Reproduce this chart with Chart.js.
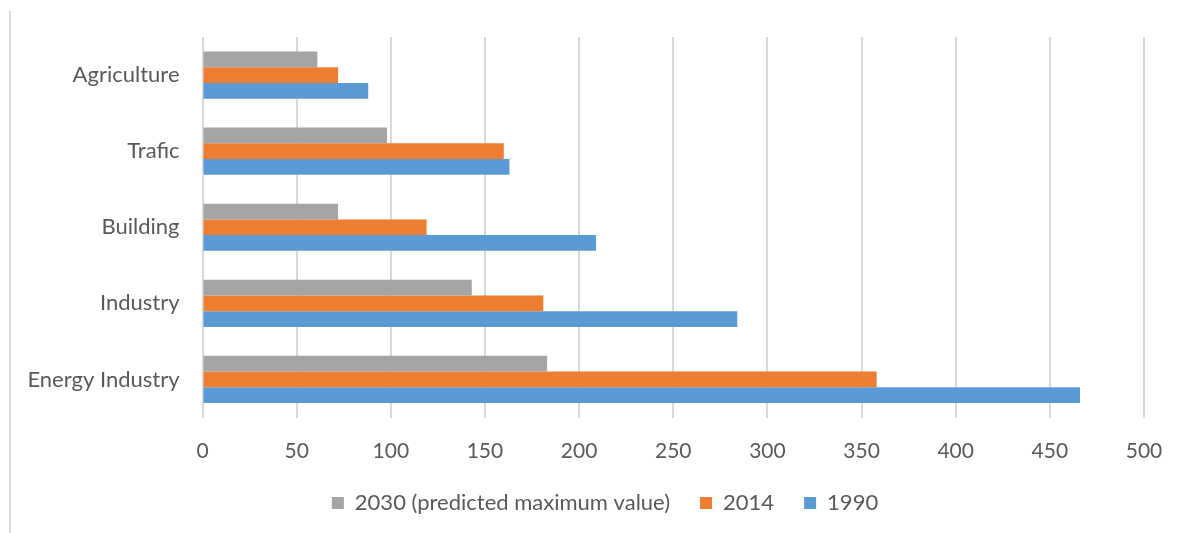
<!DOCTYPE html>
<html>
<head>
<meta charset="utf-8">
<script src="https://cdn.jsdelivr.net/npm/chart.js@4"></script>
<style>
  html, body { margin:0; padding:0; background:#fff; }
  #wrap { position:relative; width:1185px; height:533px; }
  #edge { position:absolute; left:9px; top:11px; width:2px; height:522px; background:#d9d9d9; }
  canvas { position:absolute; left:0; top:0; }
</style>
</head>
<body>
<div id="wrap">
  <div id="edge"></div>
  <canvas id="chart" width="1185" height="533"></canvas>
</div>
<script>
// --- Data ---
const categories = ['Agriculture', 'Trafic', 'Building', 'Industry', 'Energy Industry'];
const seriesNames = ['2030 (predicted maximum value)', '2014', '1990'];
const values2030 = [61, 98, 72, 143, 183];
const values2014 = [72, 160, 119, 181, 358];
const values1990 = [88, 163, 209, 284, 466];
const xTicks = [0, 50, 100, 150, 200, 250, 300, 350, 400, 450, 500];

// --- Style ---
const colors = ['#a5a5a5', '#ed7d31', '#5b9bd5'];
const textColor = '#595959';
const gridColor = '#d9d9d9';
const fontFamily = 'Lato, "Open Sans", sans-serif';

// shift the legend so it centres where the reference puts it
const legendShift = {
  id: 'legendShift',
  afterLayout(chart) { if (chart.legend) chart.legend.left += 66; }
};

const ctx = document.getElementById('chart').getContext('2d');

new Chart(ctx, {
  type: 'bar',
  data: {
    labels: categories,
    datasets: [values2030, values2014, values1990].map((vals, i) => ({
      label: seriesNames[i],
      data: vals,
      backgroundColor: colors[i],
      borderWidth: 0,
      categoryPercentage: 0.62,
      barPercentage: 1
    }))
  },
  options: {
    indexAxis: 'y',
    responsive: false,
    animation: false,
    layout: { padding: { top: 37, right: 41, bottom: 9, left: 0 } },
    plugins: {
      tooltip: { enabled: false },
      legend: {
        position: 'bottom',
        labels: {
          color: textColor,
          font: { family: fontFamily, size: 22 },
          boxWidth: 12,
          boxHeight: 12,
          padding: 30
        }
      }
    },
    scales: {
      x: {
        min: 0,
        max: 500,
        afterBuildTicks: s => { s.ticks = xTicks.map(v => ({ value: v })); },
        afterFit: s => { s.height = 44.5; },
        grid: { color: gridColor, lineWidth: 2, drawTicks: false },
        border: { display: false },
        ticks: { color: textColor, font: { family: fontFamily, size: 21 }, padding: 21 }
      },
      y: {
        afterFit: s => { s.width = 202.5; },
        grid: { display: false, drawTicks: false },
        border: { display: false },
        ticks: { color: textColor, font: { family: fontFamily, size: 22 }, padding: 23 }
      }
    }
  },
  plugins: [legendShift]
});
</script>
</body>
</html>
